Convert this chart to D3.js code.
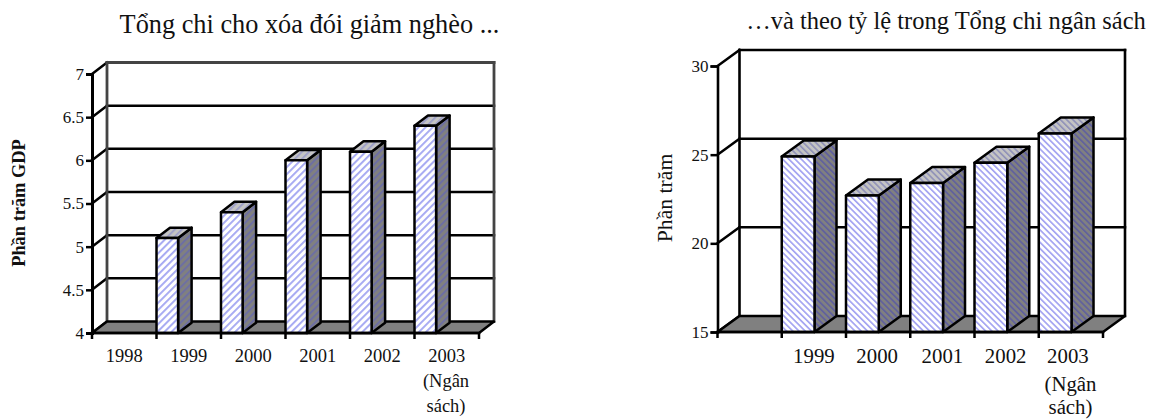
<!DOCTYPE html>
<html><head><meta charset="utf-8">
<script src="https://cdn.jsdelivr.net/npm/d3@7"></script>
<style>html,body{margin:0;padding:0;background:#fff}svg{display:block}text{font-family:"Liberation Serif",serif;fill:#111}</style>
</head><body><svg id="c" width="1149" height="419"></svg>
<script>
const leftCategories = ["1998","1999","2000","2001","2002","2003"];
const leftValues = [null,5.1,5.4,6.0,6.1,6.4];
const leftTicks = [4,4.5,5,5.5,6,6.5,7];
const rightCategories = ["","1999","2000","2001","2002","2003"];
const rightValues = [null,24.9,22.7,23.4,24.55,26.2];
const rightTicks = [15,20,25,30];
const budgetNote = ["(Ngân","sách)"];
const leftTitle = "Tổng chi cho xóa đói giảm nghèo ...";
const rightTitle = "…và theo tỷ lệ trong Tổng chi ngân sách";

const svg = d3.select("#c"), defs = svg.append("defs");
function pattern(id, period, angle, bg, fg, w){
  const p = defs.append("pattern").attr("id",id).attr("patternUnits","userSpaceOnUse")
    .attr("width",period).attr("height",period).attr("patternTransform",`rotate(${angle})`);
  p.append("rect").attr("width",period).attr("height",period).attr("fill",bg);
  p.append("rect").attr("width",w).attr("height",period).attr("fill",fg);
}
pattern("lf",5,45,"#fff","#a4a8f2",1.9);
pattern("ls",5,45,"#808080","#6a6ca8",1.7);
pattern("lt",5,45,"#c4c4c4","#9a9cc8",1.7);
pattern("rf",4.4,-45,"#fff","#a4a4f2",1.7);
pattern("rs",4.4,-45,"#808080","#5e5ea0",1.6);
pattern("rt",4.4,-45,"#c4c4c4","#8e90b8",1.6);

function chart(o){
  const g = svg.append("g");
  const x = d3.scaleBand().domain(o.cats.map((c,i)=>i)).range([o.x0,o.x1]);
  const y = d3.scaleLinear().domain(d3.extent(o.ticks)).range([o.y0,o.y1]);
  const line = (a,b,c,d,w,col)=>g.append("line").attr("x1",a).attr("y1",b).attr("x2",c).attr("y2",d)
    .attr("stroke",col||"#000").attr("stroke-width",w||o.sw).attr("stroke-linecap","square");
  const B = o.dx, D = o.dy, top = o.ticks[o.ticks.length-1];
  o.ticks.forEach(t=>{
    line(o.x0,y(t),o.x0+B,y(t)-D);
    if(t>o.ticks[0]) line(o.x0+B,y(t)-D,o.x1+B,y(t)-D,t===top?o.wallW:o.sw,t===top?o.wall:"#000");
  });
  line(o.x0+B,y(o.ticks[0])-D,o.x0+B,o.y1-D,o.wallW,o.wall);
  line(o.x1+B,y(o.ticks[0])-D,o.x1+B,o.y1-D,o.wallW,o.wall);
  g.append("path").attr("d",`M${o.x0},${o.y0}L${o.x1},${o.y0}L${o.x1+B},${o.y0-D}L${o.x0+B},${o.y0-D}Z`)
    .attr("fill","#808080").attr("stroke","#000").attr("stroke-width",o.sw).attr("stroke-linejoin","round");
  const bw = x.bandwidth()*o.barFrac, bx=o.dx*o.depth, by=o.dy*o.depth;
  o.vals.forEach((v,i)=>{
    if(v==null) return;
    const l=x(i), r=l+bw, t=y(v), b=y(o.ticks[0]);
    const bars=g.append("g").attr("stroke","#000").attr("stroke-width",o.sw).attr("stroke-linejoin","round");
    bars.append("path").attr("d",`M${r},${t}L${r+bx},${t-by}L${r+bx},${b-by}L${r},${b}Z`).attr("fill",`url(#${o.p}s)`);
    bars.append("path").attr("d",`M${l},${t}L${l+bx},${t-by}L${r+bx},${t-by}L${r},${t}Z`).attr("fill",`url(#${o.p}t)`);
    bars.append("rect").attr("x",l).attr("y",t).attr("width",bw).attr("height",b-t).attr("fill",`url(#${o.p}f)`);
  });
  const ya = g.append("g").attr("transform",`translate(${o.x0},0)`)
    .call(d3.axisLeft(y).tickValues(o.ticks).tickSize(o.tick).tickPadding(o.tickPad).tickFormat(d3.format("~g")));
  ya.select(".domain").attr("stroke","#000").attr("stroke-width",o.axisW);
  ya.selectAll("line").attr("stroke","#000").attr("stroke-width",o.sw);
  ya.selectAll("text").style("font-size",o.yFont+"px").style("font-family",'"Liberation Serif"').attr("fill","#111");
  const xa = g.append("g").attr("transform",`translate(0,${o.y0})`);
  line(o.x0,o.y0,o.x1,o.y0);
  d3.range(o.cats.length+1).forEach(i=>{
    const px = o.x0+(o.x1-o.x0)*i/o.cats.length;
    xa.append("line").attr("x1",px).attr("x2",px).attr("y1",0).attr("y2",6).attr("stroke","#000").attr("stroke-width",o.sw);
  });
  o.cats.forEach((c,i)=>{
    g.append("text").attr("x",x(i)+x.bandwidth()/2+(o.catShift[i]||0)).attr("y",o.catY).attr("text-anchor","middle")
      .style("font-size",o.catFont+"px").text(c);
  });
  budgetNote.forEach((s,k)=>g.append("text").attr("x",o.noteX).attr("y",o.noteY[k]).attr("text-anchor","middle")
      .style("font-size",o.noteFont+"px").text(s));
  svg.append("text").attr("x",o.titleX).attr("y",o.titleY).attr("text-anchor","middle").style("font-size",o.titleFont+"px").text(o.title);
  svg.append("text").attr("transform",`translate(${o.labX},${o.labY}) rotate(-90)`).attr("text-anchor","middle")
    .style("font-size",o.labFont+"px").style("font-weight",o.labW).text(o.lab);
}
chart({cats:leftCategories,vals:leftValues,ticks:leftTicks,x0:92,x1:479,y0:333,y1:74,dx:15,dy:11.5,depth:.9,barFrac:.335,p:"l",sw:2.5,axisW:3,wall:"#444",wallW:2.8,tick:6,tickPad:2,
  yFont:17,catFont:18.5,catY:362,catShift:[],noteX:446,noteY:[387,412],noteFont:18.5,
  title:leftTitle,titleX:309.5,titleY:33,titleFont:26.3,lab:"Phần trăm GDP",labX:25,labY:203,labFont:18.4,labW:"bold"});
chart({cats:rightCategories,vals:rightValues,ticks:rightTicks,x0:717.5,x1:1103,y0:332,y1:66,dx:22,dy:16,depth:1,barFrac:.51,p:"r",sw:2.5,axisW:2.6,wall:"#000",wallW:2.6,tick:7,tickPad:2,
  yFont:17,catFont:20.8,catY:363,catShift:[0,0,-1,0,-1,-3],noteX:1070.5,noteY:[391,414],noteFont:20.8,
  title:rightTitle,titleX:946,titleY:29,titleFont:24.5,lab:"Phần trăm",labX:672,labY:198,labFont:21.7,labW:"normal"});
</script></body></html>
